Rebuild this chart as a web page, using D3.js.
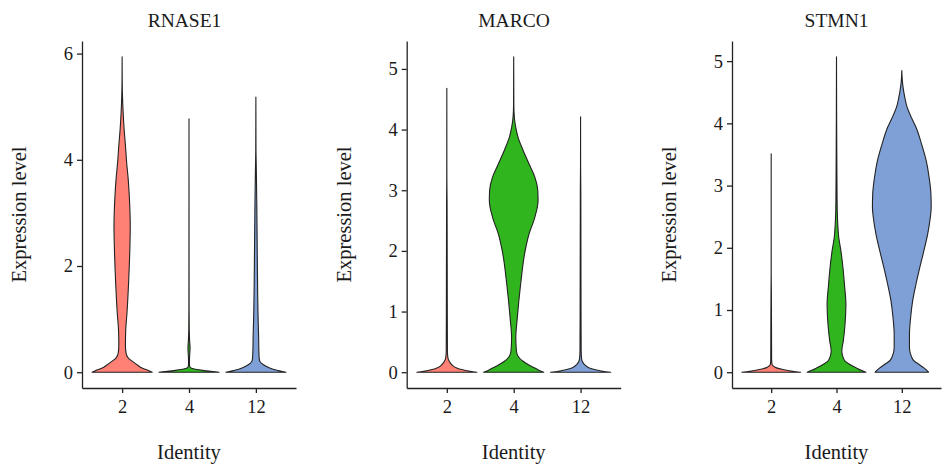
<!DOCTYPE html>
<html>
<head>
<meta charset="utf-8">
<script src="https://cdn.jsdelivr.net/npm/d3@7"></script>
<style>
  html, body { margin: 0; padding: 0; background: #fff; }
  svg text { font-family: "Liberation Serif", "DejaVu Serif", serif; fill: #1a1a1a; }
</style>
</head>
<body>
<svg id="chart" width="942" height="468"></svg>
<script>
// ---- data ----
const genes = ["RNASE1", "MARCO", "STMN1"];
const identities = ["2", "4", "12"];
const identityColors = ["#FF8075", "#31B51F", "#7F9FD7"];
const yTicksRNASE1 = [0, 2, 4, 6];
const yTicksMARCO = [0, 1, 2, 3, 4, 5];
const yTicksSTMN1 = [0, 1, 2, 3, 4, 5];

// violin profiles: [expression level, relative half-width]
const rnase1_2 = [[0,1],[0.04,0.84],[0.08,0.66],[0.13,0.52],[0.18,0.40],[0.27,0.2],[0.36,0.13],[0.5,0.11],[0.8,0.12],[1.1,0.16],[1.75,0.22],[2.4,0.26],[2.75,0.27],[3.3,0.24],[3.65,0.2],[3.95,0.15],[4.27,0.11],[4.58,0.066],[4.9,0.033],[5.2,0.012],[5.5,0.003],[5.94,0]];
const rnase1_4 = [[0,1],[0.02,0.66],[0.035,0.45],[0.05,0.27],[0.065,0.15],[0.08,0.07],[0.1,0.03],[0.15,0.015],[0.3,0.02],[0.45,0.035],[0.6,0.02],[0.8,0.008],[1.2,0.003],[4.77,0]];
const rnase1_12 = [[0,1],[0.03,0.75],[0.05,0.6],[0.08,0.46],[0.145,0.24],[0.21,0.13],[0.27,0.11],[0.4,0.1],[0.7,0.09],[1.0,0.075],[2.0,0.05],[3.2,0.03],[3.8,0.015],[4.2,0.004],[5.18,0]];
const marco_2 = [[0,1],[0.016,0.77],[0.044,0.49],[0.07,0.33],[0.127,0.16],[0.18,0.08],[0.24,0.035],[0.35,0.02],[1,0.015],[2.8,0.008],[3.2,0.002],[4.68,0]];
const marco_4 = [[0,1],[0.03,0.85],[0.07,0.70],[0.127,0.48],[0.18,0.31],[0.26,0.15],[0.35,0.09],[0.57,0.07],[0.9,0.12],[1.45,0.23],[2.0,0.38],[2.28,0.51],[2.55,0.70],[2.83,0.81],[3.0,0.80],[3.22,0.70],[3.38,0.56],[3.66,0.31],[3.88,0.14],[4.04,0.067],[4.21,0.02],[4.4,0.005],[5.2,0]];
const marco_12 = [[0,1],[0.016,0.73],[0.044,0.46],[0.07,0.29],[0.127,0.13],[0.18,0.055],[0.24,0.03],[0.35,0.02],[1,0.015],[3.0,0.008],[3.4,0.002],[4.21,0]];
const stmn1_2 = [[0,1],[0.016,0.73],[0.043,0.40],[0.07,0.18],[0.097,0.08],[0.124,0.03],[0.2,0.015],[0.6,0.012],[1.3,0.006],[1.6,0.001],[3.51,0]];
const stmn1_4 = [[0,1],[0.03,0.84],[0.07,0.67],[0.124,0.46],[0.18,0.29],[0.26,0.21],[0.34,0.18],[0.5,0.23],[0.77,0.29],[1.09,0.32],[1.41,0.27],[1.68,0.22],[1.95,0.15],[2.17,0.076],[2.38,0.043],[2.76,0.02],[3.56,0.01],[4.1,0.005],[5.07,0]];
const stmn1_12 = [[0,0.91],[0.07,0.75],[0.124,0.59],[0.18,0.42],[0.26,0.32],[0.39,0.26],[0.61,0.26],[0.88,0.30],[1.15,0.37],[1.41,0.48],[1.68,0.61],[1.95,0.75],[2.22,0.88],[2.49,0.97],[2.65,1.0],[2.87,0.99],[3.13,0.93],[3.4,0.83],[3.67,0.67],[3.94,0.48],[4.1,0.32],[4.26,0.18],[4.42,0.10],[4.59,0.04],[4.7,0.015],[4.85,0]];

const panelData = [
  { gene: genes[0], ticks: yTicksRNASE1, violins: [rnase1_2, rnase1_4, rnase1_12] },
  { gene: genes[1], ticks: yTicksMARCO,  violins: [marco_2, marco_4, marco_12] },
  { gene: genes[2], ticks: yTicksSTMN1,  violins: [stmn1_2, stmn1_4, stmn1_12] }
];

// ---- layout ----
const panelLeft  = [82, 406.7, 732];
const panelRight = [296, 620.7, 941];
const titleX = [184.5, 514, 836.5];
const plotTop = 41, plotBottom = 388;
const axisColor = "#222";

const svg = d3.select("#chart");

panelData.forEach((p, i) => {
  const g = svg.append("g");
  const x = d3.scalePoint().domain(identities).range([panelLeft[i], panelRight[i]]).padding(0.6);
  const ymax = d3.max(p.violins, v => d3.max(v, d => d[0]));
  const ymin = 0;
  const span = ymax - ymin;
  const y = d3.scaleLinear().domain([ymin - 0.05 * span, ymax + 0.05 * span]).range([plotBottom, plotTop]);
  const halfMax = 0.45 * x.step();

  p.violins.forEach((prof, j) => {
    const cx = x(identities[j]);
    const area = d3.area()
      .y(d => y(d[0]))
      .x0(d => cx - d[1] * halfMax)
      .x1(d => cx + d[1] * halfMax)
      .curve(d3.curveMonotoneY);
    g.append("path")
      .attr("d", area(prof))
      .attr("fill", identityColors[j])
      .attr("stroke", "#222")
      .attr("stroke-width", 1.1)
      .attr("stroke-linejoin", "round");
  });

  // y axis
  const ya = g.append("g")
    .attr("transform", `translate(${panelLeft[i]},0)`)
    .call(d3.axisLeft(y).tickValues(p.ticks).tickFormat(d3.format("d")).tickSize(5).tickSizeOuter(0).tickPadding(4));
  ya.selectAll("path.domain, .tick line").attr("stroke", axisColor).attr("stroke-width", 1.3);
  ya.selectAll(".tick text").style("font-size", "18.5px").attr("fill", "#1a1a1a")
    .style("font-family", '"Liberation Serif", serif');

  // x axis
  const xa = g.append("g")
    .attr("transform", `translate(0,${plotBottom})`)
    .call(d3.axisBottom(x).tickSize(5).tickSizeOuter(0).tickPadding(7));
  xa.selectAll("path.domain, .tick line").attr("stroke", axisColor).attr("stroke-width", 1.3);
  xa.selectAll(".tick text").style("font-size", "18.5px").attr("fill", "#1a1a1a")
    .style("font-family", '"Liberation Serif", serif');

  // title
  g.append("text")
    .attr("x", titleX[i]).attr("y", 27)
    .attr("text-anchor", "middle")
    .style("font-size", "19.5px")
    .text(p.gene);

  // axis titles
  const midX = (panelLeft[i] + panelRight[i]) / 2;
  g.append("text")
    .attr("x", midX).attr("y", 459)
    .attr("text-anchor", "middle")
    .style("font-size", "20.5px")
    .text("Identity");
  g.append("text")
    .attr("transform", `translate(${panelLeft[i] - 56},${(plotTop + plotBottom) / 2}) rotate(-90)`)
    .attr("text-anchor", "middle")
    .style("font-size", "20.5px")
    .text("Expression level");
});
</script>
</body>
</html>
